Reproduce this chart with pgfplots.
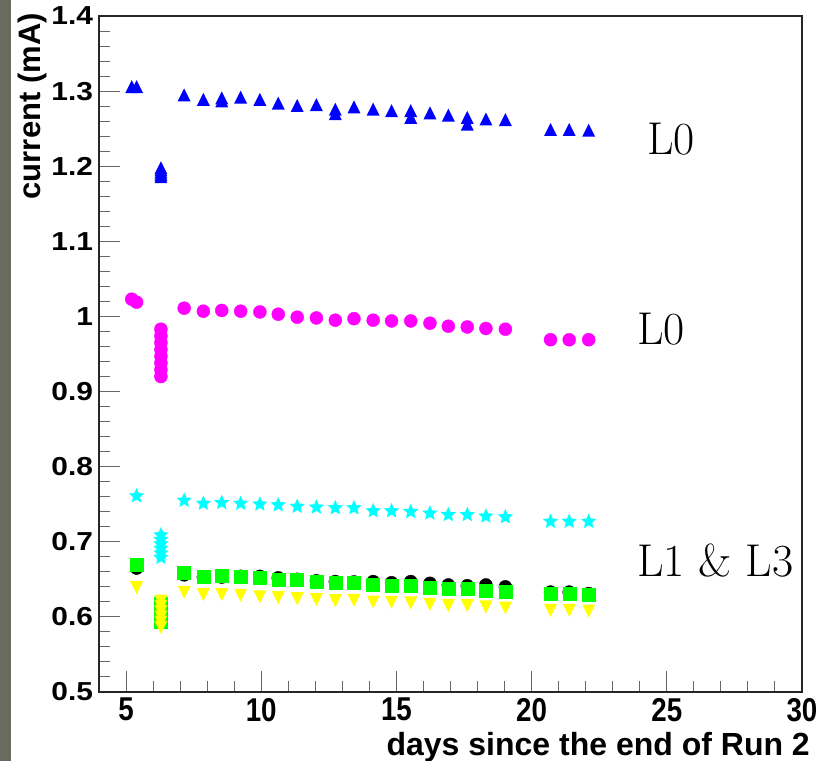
\documentclass[border=0pt]{standalone}
\usepackage{fontspec}
\newfontfamily\hv{Liberation Sans}
\usepackage{pgfplots}
\pgfplotsset{compat=1.18}
\usepackage{pgfplotstable}
\definecolor{stripgrey}{RGB}{106,106,94}
\definecolor{rblue}{RGB}{0,0,255}
\definecolor{rmag}{RGB}{255,0,255}
\definecolor{rcyan}{RGB}{0,255,255}
\definecolor{rgreen}{RGB}{0,255,0}
\definecolor{ryellow}{RGB}{255,255,0}

\pgfdeclareplotmark{rtri}{%
  \pgfpathmoveto{\pgfqpoint{0pt}{\pgfplotmarksize}}%
  \pgfpathlineto{\pgfqpoint{-\pgfplotmarksize}{-\pgfplotmarksize}}%
  \pgfpathlineto{\pgfqpoint{\pgfplotmarksize}{-\pgfplotmarksize}}%
  \pgfpathclose\pgfusepathqfill}
\pgfdeclareplotmark{dtri}{%
  \pgfpathmoveto{\pgfqpoint{0pt}{-\pgfplotmarksize}}%
  \pgfpathlineto{\pgfqpoint{-\pgfplotmarksize}{\pgfplotmarksize}}%
  \pgfpathlineto{\pgfqpoint{\pgfplotmarksize}{\pgfplotmarksize}}%
  \pgfpathclose\pgfusepathqfill}
\pgfdeclareplotmark{fstar}{%
  \pgfpathmoveto{\pgfpointpolar{90}{\pgfplotmarksize}}%
  \pgfpathlineto{\pgfpointpolar{126}{0.46*\pgfplotmarksize}}%
  \pgfpathlineto{\pgfpointpolar{162}{\pgfplotmarksize}}%
  \pgfpathlineto{\pgfpointpolar{198}{0.46*\pgfplotmarksize}}%
  \pgfpathlineto{\pgfpointpolar{234}{\pgfplotmarksize}}%
  \pgfpathlineto{\pgfpointpolar{270}{0.46*\pgfplotmarksize}}%
  \pgfpathlineto{\pgfpointpolar{306}{\pgfplotmarksize}}%
  \pgfpathlineto{\pgfpointpolar{342}{0.46*\pgfplotmarksize}}%
  \pgfpathlineto{\pgfpointpolar{18}{\pgfplotmarksize}}%
  \pgfpathlineto{\pgfpointpolar{54}{0.46*\pgfplotmarksize}}%
  \pgfpathclose\pgfusepathqfill}

\pgfplotstableread{
x y
5.21 1.306
5.39 1.306
6.29 1.198
6.29 1.195
6.29 1.192
6.29 1.189
6.29 1.186
7.15 1.295
7.86 1.289
8.54 1.291
8.54 1.287
9.24 1.292
9.95 1.289
10.63 1.284
11.33 1.281
12.04 1.282
12.74 1.276
12.74 1.270
13.43 1.279
14.14 1.276
14.82 1.274
15.53 1.274
15.53 1.265
16.24 1.271
16.92 1.268
17.62 1.265
17.62 1.256
18.31 1.263
19.03 1.262
20.70 1.249
21.39 1.249
22.11 1.248
}\tblue

\pgfplotstableread{
x y
5.21 1.023
5.39 1.019
6.29 0.983
6.29 0.974
6.29 0.965
6.29 0.956
6.29 0.947
6.29 0.938
6.29 0.929
6.29 0.920
7.15 1.011
7.86 1.007
8.54 1.008
9.24 1.007
9.95 1.006
10.63 1.003
11.33 0.999
12.04 0.998
12.74 0.995
13.43 0.997
14.14 0.995
14.82 0.994
15.53 0.994
16.24 0.991
16.92 0.987
17.62 0.986
18.31 0.984
19.03 0.983
20.70 0.969
21.39 0.969
22.11 0.969
}\tmag

\pgfplotstableread{
x y
5.39 0.761
6.29 0.709
6.29 0.703
6.29 0.697
6.29 0.691
6.29 0.685
6.29 0.679
7.15 0.755
7.86 0.751
8.54 0.752
9.24 0.751
9.95 0.750
10.63 0.749
11.33 0.747
12.04 0.746
12.74 0.745
13.43 0.745
14.14 0.741
14.82 0.741
15.53 0.740
16.24 0.738
16.92 0.736
17.62 0.736
18.31 0.734
19.03 0.733
20.70 0.727
21.39 0.727
22.11 0.727
}\tcyan

\pgfplotstableread{
x y
5.39 0.665
6.29 0.615
6.29 0.605
6.29 0.597
7.15 0.656
7.86 0.653
8.54 0.653
9.24 0.654
9.95 0.654
10.63 0.652
11.33 0.650
12.04 0.648
12.74 0.647
13.43 0.6465
14.14 0.647
14.82 0.6455
15.53 0.647
16.24 0.6447
16.92 0.6425
17.62 0.6415
18.31 0.6425
19.03 0.640
20.70 0.633
21.39 0.633
22.11 0.631
}\tblack

\pgfplotstableread{
x y
5.39 0.669
6.29 0.617
6.29 0.611
6.29 0.605
6.29 0.599
6.29 0.594
7.15 0.659
7.86 0.654
8.54 0.655
9.24 0.654
9.95 0.652
10.63 0.650
11.33 0.649
12.04 0.647
12.74 0.645
13.43 0.645
14.14 0.6425
14.82 0.6415
15.53 0.6415
16.24 0.639
16.92 0.637
17.62 0.637
18.31 0.635
19.03 0.6335
20.70 0.631
21.39 0.631
22.11 0.629
}\tgreen

\pgfplotstableread{
x y
5.39 0.639
6.29 0.621
6.29 0.614
6.29 0.607
6.29 0.600
6.29 0.593
6.29 0.586
7.15 0.6327
7.86 0.6296
8.54 0.6296
9.24 0.6287
9.95 0.6265
10.63 0.6256
11.33 0.6242
12.04 0.6229
12.74 0.6216
13.43 0.6220
14.14 0.6198
14.82 0.6194
15.53 0.6185
16.24 0.6167
16.92 0.6150
17.62 0.6150
18.31 0.6132
19.03 0.6118
20.70 0.6087
21.39 0.6087
22.11 0.6078
}\tyellow

\begin{document}
\begin{tikzpicture}[x=1pt,y=1pt]
\path[use as bounding box] (0,0) rectangle (831,761);
\fill[stripgrey] (0,0) rectangle (11,761);
\begin{axis}[
  at={(99pt,69pt)}, anchor=south west,
  width=703pt, height=676pt, scale only axis,
  xmin=4, xmax=30, ymin=0.5, ymax=1.4,
  xtick={5,10,15,20,25,30}, minor x tick num=4,
  ytick={0.5,0.6,0.7,0.8,0.9,1,1.1,1.2,1.3,1.4}, minor y tick num=4,
  tick pos=left, tick align=inside,
  major tick length=21pt, minor tick length=10.5pt,
  every tick/.style={black!60, line width=1pt},
  axis line style={black!85, line width=1.3pt},
  /pgf/number format/assume math mode=true,
  yticklabel style={font={\fontsize{26}{26}\selectfont\hv\bfseries}, xscale=1.15, inner sep=0pt, anchor=east, xshift=-5pt},
  xticklabel style={font={\fontsize{33}{33}\selectfont\hv\bfseries}, xscale=0.84, inner sep=0pt, anchor=north, yshift=-6pt},
  xlabel={days since the end of Run 2},
  xlabel style={at={(axis description cs:1.0114,-0.0932)}, anchor=base east, inner sep=0pt, font={\fontsize{32}{32}\selectfont\hv\bfseries}},
  ylabel={current (mA)},
  ylabel style={at={(axis description cs:-0.0953,1.0044)}, anchor=east, inner sep=0pt, font={\fontsize{31}{31}\selectfont\hv\bfseries}},
  clip=false,
]
\addplot[only marks, mark=rtri, mark size=6.5pt, color=rblue] table {\tblue};
\addplot[only marks, mark=*, mark size=6.5pt, color=rmag, mark options={draw=none, fill=rmag}] table {\tmag};
\addplot[only marks, mark=fstar, mark size=8pt, color=rcyan] table {\tcyan};
\addplot[only marks, mark=*, mark size=6.5pt, color=black, mark options={draw=none, fill=black}] table {\tblack};
\addplot[only marks, mark=square*, mark size=6.5pt, color=rgreen, mark options={draw=none, fill=rgreen}] table {\tgreen};
\addplot[only marks, mark=dtri, mark size=6.5pt, color=ryellow] table {\tyellow};
\node[anchor=base west, inner sep=0pt, font=\fontsize{46}{46}\selectfont] at (axis cs:24.27,1.215) {L0};
\node[anchor=base west, inner sep=0pt, font=\fontsize{46}{46}\selectfont] at (axis cs:23.90,0.962) {L0};
\node[anchor=base west, inner sep=0pt, font=\fontsize{46}{46}\selectfont] at (axis cs:23.90,0.6544) {L1 \& L3};
\end{axis}
\end{tikzpicture}
\end{document}
